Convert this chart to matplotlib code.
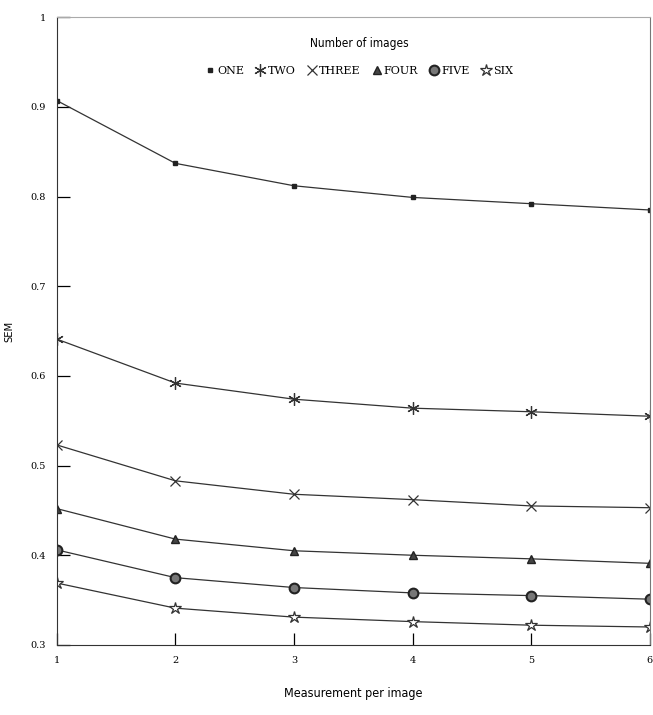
import numpy as np
import matplotlib.pyplot as plt

# data
meas = [1, 2, 3, 4, 5, 6]
one = [0.907, 0.837, 0.812, 0.799, 0.792, 0.785]
two = [0.641, 0.592, 0.574, 0.564, 0.560, 0.555]
three = [0.523, 0.483, 0.468, 0.462, 0.455, 0.453]
four = [0.452, 0.418, 0.405, 0.400, 0.396, 0.391]
five = [0.406, 0.375, 0.364, 0.358, 0.355, 0.351]
six = [0.369, 0.341, 0.331, 0.326, 0.322, 0.320]
names = ['ONE', 'TWO', 'THREE', 'FOUR', 'FIVE', 'SIX']
yticks = [0.3, 0.4, 0.5, 0.6, 0.7, 0.8, 0.9, 1.0]
ylabels = ['0.3', '0.4', '0.5', '0.6', '0.7', '0.8', '0.9', '1']

fig = plt.figure(figsize=(6.53, 7.15), dpi=100)
ax = fig.add_axes([0.087, 0.098, 0.908, 0.878])

kw = dict(color='#333333', lw=0.9)
ax.plot(meas, one, marker='s', ms=2.5, mfc='#222222', mec='#222222', label=names[0], **kw)
ax.plot(meas, two, marker=(6, 2, 0), ms=9, mec='#333333', mew=0.9, label=names[1], **kw)
ax.plot(meas, three, marker='x', ms=7, mec='#333333', mew=0.9, label=names[2], **kw)
ax.plot(meas, four, marker='^', ms=6, mfc='#444444', mec='#222222', label=names[3], **kw)
ax.plot(meas, five, marker='o', ms=7, mfc='#777777', mec='#222222', mew=1.5, label=names[4], **kw)
ax.plot(meas, six, marker='*', ms=9, mfc='white', mec='#333333', mew=0.9, label=names[5], **kw)

ax.set_xlim(1, 6)
ax.set_ylim(0.3, 1.0)
ax.set_xticks(meas)
ax.set_yticks(yticks)
ax.set_yticklabels(ylabels)
ax.tick_params(direction='in', length=9, width=0.9, labelsize=7, pad=8)
for lab in ax.get_xticklabels() + ax.get_yticklabels():
    lab.set_family('DejaVu Serif')

ax.spines['top'].set_color('#aaaaaa')
ax.spines['right'].set_color('#777777')
for s in ['left', 'bottom']:
    ax.spines[s].set_color('#333333')

ax.set_xlabel('Measurement per image', family='DejaVu Sans', stretch='condensed',
              fontsize=9, labelpad=16)
ax.set_ylabel('SEM', family='DejaVu Sans', stretch='condensed', fontsize=8)
ax.yaxis.set_label_coords(-0.072, 0.5)

leg = ax.legend(loc='upper center', bbox_to_anchor=(0.51, 0.985), ncol=6, frameon=False,
                title='Number of images', handlelength=0.9, handletextpad=0.2,
                columnspacing=1.0, markerscale=1.0,
                prop={'family': 'DejaVu Serif', 'size': 8})
leg.get_title().set_family('DejaVu Sans')
leg.get_title().set_stretch('condensed')
leg.get_title().set_fontsize(8.5)
leg._legend_box.sep = 12
for h in leg.legend_handles:
    h.set_linestyle('none')

fig.savefig('out.png', dpi=100)
